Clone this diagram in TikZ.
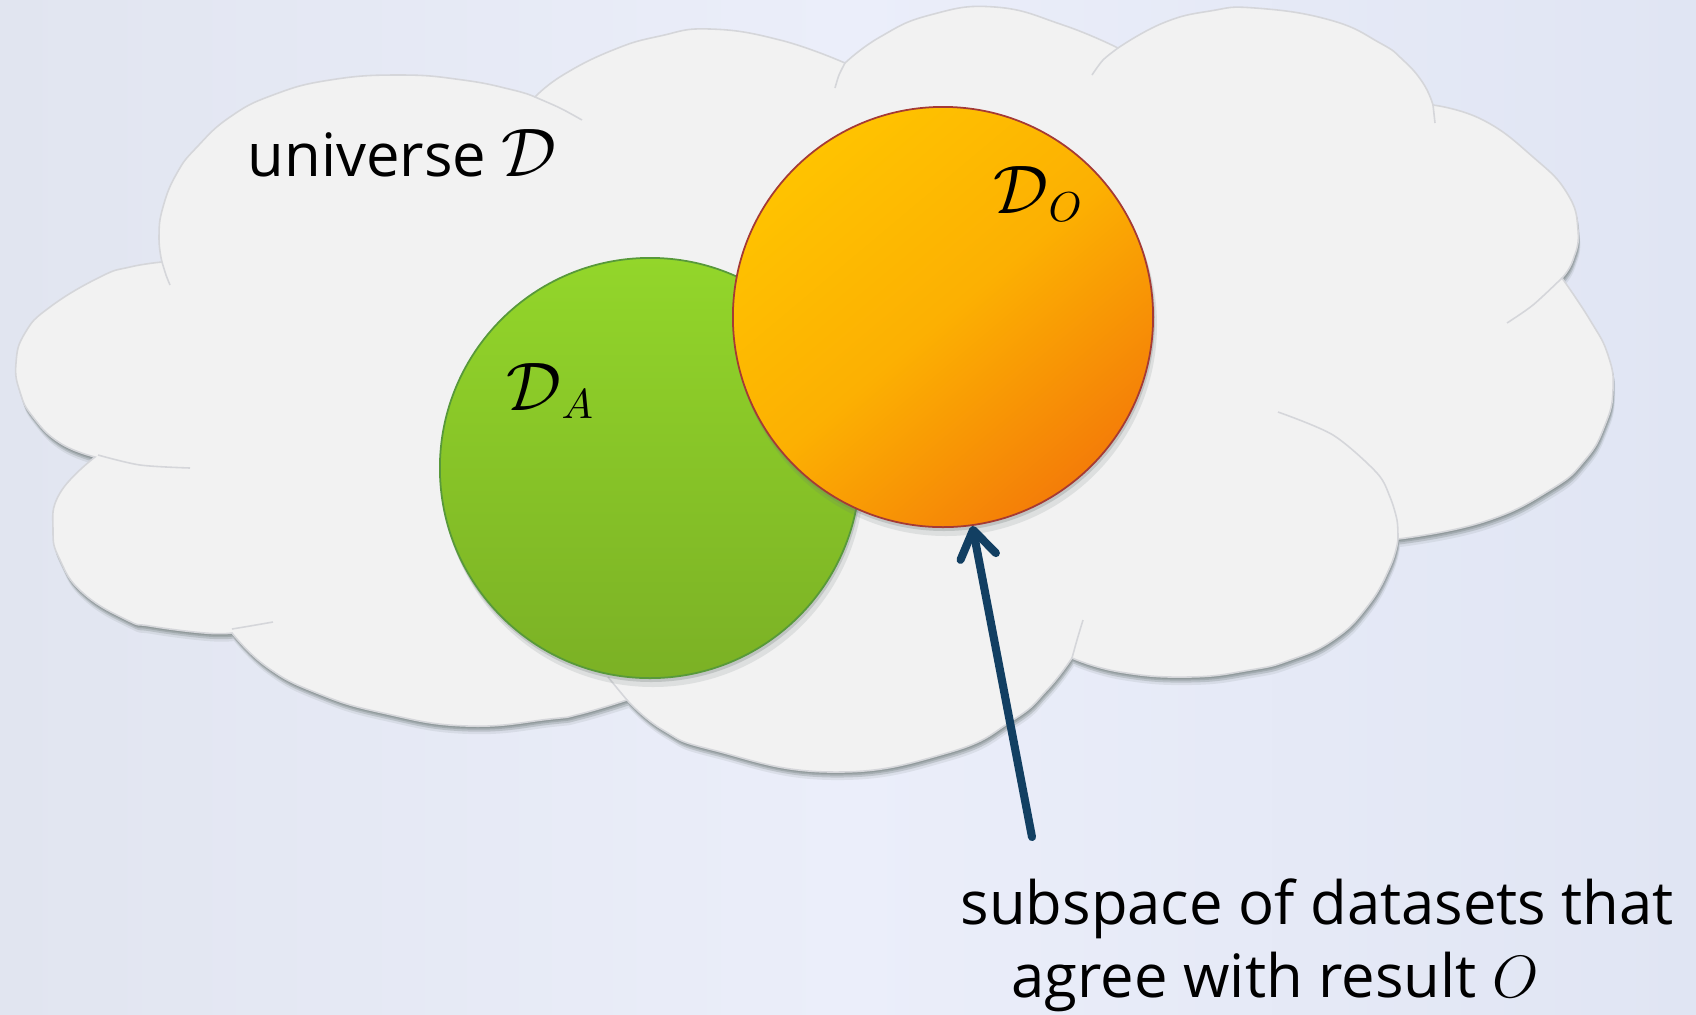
\RequirePackage{fix-cm}
\documentclass[tikz,border=0pt]{standalone}
\usepackage{fontspec}
\usepackage{graphicx}
\setmainfont{Open Sans}
\usetikzlibrary{arrows.meta}
\definecolor{bgL}{HTML}{E1E5F0}
\definecolor{bgM}{HTML}{EBEEFA}
\definecolor{bgR}{HTML}{E0E5F3}
\definecolor{cloudfill}{HTML}{F2F2F2}
\definecolor{cloudline}{HTML}{D5D6DA}
\definecolor{shadowc}{HTML}{6A7673}
\definecolor{greenT}{HTML}{93D62A}
\definecolor{greenB}{HTML}{7BB125}
\definecolor{greenE}{HTML}{58993A}
\definecolor{orT}{HTML}{FFC300}
\definecolor{orM}{HTML}{FCB002}
\definecolor{orB}{HTML}{F47D08}
\definecolor{orE}{HTML}{A53A35}
\definecolor{arrowc}{HTML}{123F62}
\newcommand\calD{\scalebox{1.15}{$\mathcal{D}$}}
\def\cloudpath{plot[smooth,tension=0.8] coordinates {(162,262) (159,237) (163,207) (177,173) (197,147) (230,117) (273,95) (330,80) (400,75) (463,80) (513,90) (535,97)}
 -- plot[smooth,tension=0.8] coordinates {(535,97) (563,75) (613,50) (660,36) (710,29) (780,40) (845,63)}
 -- plot[smooth,tension=0.8] coordinates {(845,63) (880,37) (930,15) (995,7) (1063,25) (1118,48)}
 -- plot[smooth,tension=0.8] coordinates {(1118,48) (1163,23) (1210,11) (1255,8) (1330,20) (1380,43) (1403,60) (1423,83) (1433,105)}
 -- plot[smooth,tension=0.8] coordinates {(1433,105) (1483,120) (1533,157) (1567,193) (1578,230) (1573,260) (1562,278)}
 -- plot[smooth,tension=0.8] coordinates {(1562,278) (1590,320) (1608,355) (1613,390) (1605,425) (1585,460) (1550,490) (1483,522) (1398,539)}
 -- plot[smooth,tension=0.8] coordinates {(1398,539) (1390,567) (1367,607) (1333,640) (1290,660) (1250,670) (1189,677) (1120,672) (1072,658)}
 -- plot[smooth,tension=0.8] coordinates {(1072,658) (1047,690) (1013,720) (947,753) (830,772) (713,750) (663,730) (627,700)}
 -- plot[smooth,tension=0.8] coordinates {(627,700) (580,714) (550,719) (467,726) (383,713) (317,693) (267,667) (232,633)}
 -- plot[smooth,tension=0.8] coordinates {(232,633) (205,633) (150,626) (127,620) (83,593) (60,560) (53,530) (60,493) (95,457)}
 -- plot[smooth,tension=0.8] coordinates {(95,457) (60,443) (33,417) (20,392) (16,363) (25,333) (50,307) (100,277) (130,267) (162,262)}
 -- cycle}
\begin{document}
\begin{tikzpicture}[x=0.01cm,y=-0.01cm,
  cloudshape/.style={fill=cloudfill, draw=cloudline, line width=0.45pt},
  crease/.style={draw=cloudline, line width=0.45pt},
  shadowlayer/.style={fill=shadowc, opacity=0.25},
  setcircle/.style={circle, minimum size=4.2cm, inner sep=0pt, line width=0.5pt},
  greenset/.style={setcircle, draw=greenE, top color=greenT, bottom color=greenB},
  orangeset/.style={setcircle, draw=orE, top color=orT, bottom color=orB, middle color=orM, shading angle=40},
  lbl/.style={inner sep=0pt, anchor=base west, font=\fontsize{17}{20}\selectfont},
  pointer/.style={draw=arrowc, line width=2.3pt, line cap=round,
    -{Straight Barb[length=2.7mm, width=3.6mm, line cap=round, line join=round]}}]
\useasboundingbox (0,0) rectangle (1696,1014);
\shade[left color=bgL, right color=bgR, middle color=bgM] (0,0) rectangle (1696,1014);
% cloud shadow
\begin{scope}[shift={(2,8)}]\fill[shadowlayer, opacity=0.12] \cloudpath;\end{scope}
\begin{scope}[shift={(1.5,5.5)}]\fill[shadowlayer] \cloudpath;\end{scope}
\begin{scope}[shift={(1,3.5)}]\fill[shadowlayer, opacity=0.3] \cloudpath;\end{scope}
\begin{scope}[shift={(0.5,2)}]\fill[shadowlayer, opacity=0.3] \cloudpath;\end{scope}
% cloud
\path[cloudshape] \cloudpath;
% creases
\draw[crease] plot[smooth] coordinates {(162,262) (166,275) (170,285)};
\draw[crease] plot[smooth] coordinates {(535,97) (560,108) (582,120)};
\draw[crease] plot[smooth] coordinates {(845,63) (839,75) (835,88)};
\draw[crease] plot[smooth] coordinates {(1118,48) (1103,60) (1092,75)};
\draw[crease] plot[smooth] coordinates {(1433,105) (1434,114) (1435,123)};
\draw[crease] plot[smooth] coordinates {(1562,278) (1533,305) (1507,323)};
\draw[crease] plot[smooth] coordinates {(1398,539) (1397,520) (1390,497) (1377,473) (1333,435) (1278,412)};
\draw[crease] plot[smooth] coordinates {(1072,658) (1077,640) (1083,620)};
\draw[crease] plot[smooth] coordinates {(627,700) (617,688) (608,677)};
\draw[crease] plot[smooth] coordinates {(232,629) (250,626) (273,622)};
\draw[crease] plot[smooth] coordinates {(98,455) (140,465) (190,468)};
% green circle
\fill[shadowlayer, opacity=0.15] (653,476) circle[radius=211];
\fill[shadowlayer] (651,471) circle[radius=211];
\node[greenset] (DA) at (650,468) {};
% orange circle
\fill[shadowlayer, opacity=0.15] (946,325) circle[radius=211];
\fill[shadowlayer] (944,320) circle[radius=211];
\node[orangeset] (DO) at (943,317) {};
% labels
\node[lbl] (univ) at (247,176) {universe \calD};
\node[lbl] (labA) at (506,410) {\calD$_A$};
\node[lbl] (labO) at (993,213) {\calD$_O$};
\node[lbl] (cap1) at (960,924) {subspace of datasets that};
\node[lbl] (cap2) at (1011,997) {agree with result $O$};
% arrow
\coordinate (tail) at (1032,837);
\draw[pointer] (tail) -- (DO.-82);
\end{tikzpicture}
\end{document}
